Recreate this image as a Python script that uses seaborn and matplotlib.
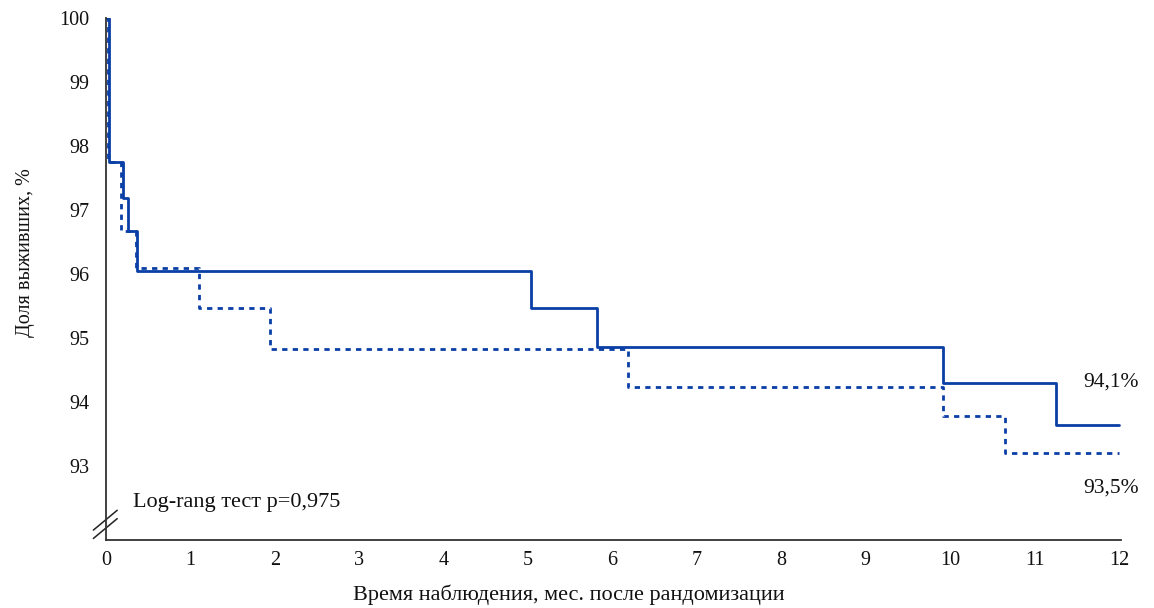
import matplotlib
matplotlib.use("Agg")
import matplotlib.pyplot as plt
import pandas as pd
import seaborn as sns

# ─── Data ────────────────────────────────────────────────────────────────────
solid_time = [0, 0.04, 0.20, 0.26, 0.37, 5.03, 5.82, 9.91, 11.25, 12.0]
solid_surv = [100, 97.75, 97.19, 96.67, 96.05, 95.47, 94.86, 94.30, 93.64, 93.64]

dashed_time = [0, 0.02, 0.18, 0.35, 1.10, 1.94, 6.18, 9.92, 10.65, 12.0]
dashed_surv = [100, 97.75, 96.67, 96.09, 95.47, 94.83, 94.23, 93.78, 93.20, 93.20]

x_ticks = list(range(0, 13))
y_ticks = [93, 94, 95, 96, 97, 98, 99, 100]

end_labels = ["94,1%", "93,5%"]
p_text = "Log-rang тест p=0,975"

BLUE = "#0a3fa6"
INK = "#111111"

sns.set_style("white")
plt.rcParams["font.family"] = ["Liberation Serif", "DejaVu Serif"]

fig = plt.figure(figsize=(11.54, 6.08), dpi=100)
ax = fig.add_axes([0.0919, 0.1118, 0.8792, 0.8586])

df_solid = pd.DataFrame({"t": solid_time, "s": solid_surv})
df_dash = pd.DataFrame({"t": dashed_time, "s": dashed_surv})

sns.lineplot(data=df_dash, x="t", y="s", ax=ax, color=BLUE, linewidth=2.0,
             estimator=None, drawstyle="steps-post", linestyle=(0, (1.9, 1.9)))
sns.lineplot(data=df_solid, x="t", y="s", ax=ax, color=BLUE, linewidth=2.0,
             estimator=None, drawstyle="steps-post")

ax.set_xlim(0, 12.02)
ax.set_ylim(91.84, 100.0)
ax.set_xticks(x_ticks)
ax.set_yticks(y_ticks)
ax.tick_params(axis="both", length=0, labelsize=14.5, colors=INK)
ax.tick_params(axis="x", pad=8)
ax.tick_params(axis="y", pad=12)

for side in ["top", "right"]:
    ax.spines[side].set_visible(False)
for side in ["left", "bottom"]:
    ax.spines[side].set_color("#333333")
    ax.spines[side].set_linewidth(1.3)

ax.set_xlabel("Время наблюдения, мес. после рандомизации", fontsize=16, color=INK)
ax.xaxis.set_label_coords(0.456, -0.085)
ax.set_ylabel("Доля выживших, %", fontsize=14.5, color=INK)
ax.yaxis.set_label_coords(-0.070, 0.55)

# axis break marks
for off in [0.0, -0.016]:
    ax.plot([-0.0125, 0.011], [0.019 + off, 0.057 + off], transform=ax.transAxes,
            color="#222222", linewidth=1.1, clip_on=False)

ax.text(0.32, 92.42, p_text, fontsize=16, va="center", ha="left", color=INK)
ax.text(12.24, 94.31, end_labels[0], fontsize=15.5, va="center", ha="right", color=INK)
ax.text(12.24, 92.66, end_labels[1], fontsize=15.5, va="center", ha="right", color=INK)

fig.savefig("out.png", dpi=100)
